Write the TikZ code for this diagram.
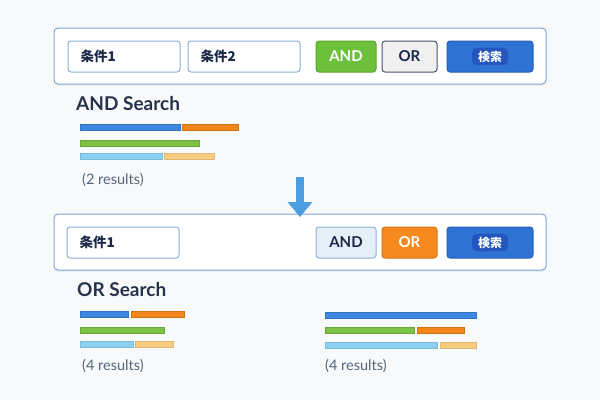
\documentclass[tikz,border=0pt]{standalone}
\usepackage{fontspec}
\setmainfont{Lato}
\newfontfamily\cjk{Noto Sans CJK JP}
\usetikzlibrary{arrows.meta,shadows}
\definecolor{bgc}{HTML}{F8F9FA}
\definecolor{panelb}{HTML}{7FA6D6}
\definecolor{fieldb}{HTML}{8DB0DA}
\definecolor{navy}{HTML}{1B2848}
\definecolor{headc}{HTML}{25324A}
\definecolor{resc}{HTML}{55657A}
\definecolor{bblue}{HTML}{3D87E0}
\definecolor{borange}{HTML}{F2861A}
\definecolor{bgreen}{HTML}{7DC242}
\definecolor{blblue}{HTML}{8CD0F0}
\definecolor{blorange}{HTML}{F8CC80}
\definecolor{btngreen}{HTML}{6CC03A}
\definecolor{btnorange}{HTML}{F68A1E}
\definecolor{btnblue}{HTML}{2E72D4}
\definecolor{btnbluedark}{HTML}{2255BE}
\definecolor{lightbtnc}{HTML}{E6EFF8}
\definecolor{arrowc}{HTML}{4E9DE0}
\tikzset{
  panel/.style={draw=panelb, line width=1pt, fill=white, rounded corners=4pt,
    drop shadow={shadow xshift=0pt, shadow yshift=-1.5pt, opacity=0.12}},
  field/.style={draw=fieldb, line width=1pt, fill=white, rounded corners=3pt,
    minimum height=31pt, inner sep=0pt},
  fieldtext/.style={font=\cjk\bfseries\fontsize{13.5}{15}\selectfont, text=navy, anchor=west, inner sep=0pt},
  btn/.style={rounded corners=3pt, line width=1pt, minimum height=31pt, inner sep=0pt,
    font=\bfseries\fontsize{15}{17}\selectfont},
  greenbtn/.style={btn, fill=btngreen, draw=btngreen!85!black, text=white},
  orangebtn/.style={btn, fill=btnorange, draw=btnorange!85!black, text=white},
  lightbtn/.style={btn, fill=lightbtnc, draw=fieldb, text=navy},
  greybtn/.style={btn, fill=black!6, draw=navy!80, text=navy},
  bluebtn/.style={btn, fill=btnblue, draw=btnblue!85!black},
  searchtext/.style={font=\cjk\bfseries\fontsize{12}{14}\selectfont, text=white, fill=btnbluedark,
    rounded corners=5pt, inner xsep=6pt, inner ysep=3pt},
  head/.style={font=\fontsize{19}{22}\selectfont\bfseries, text=headc, anchor=west, inner sep=0pt},
  res/.style={font=\fontsize{14.5}{17}\selectfont, text=resc, anchor=west, inner sep=0pt},
  barb/.style={fill=bblue, draw=bblue!85!black, line width=0.4pt},
  baro/.style={fill=borange, draw=borange!85!black, line width=0.4pt},
  barg/.style={fill=bgreen, draw=bgreen!85!black, line width=0.4pt},
  barlb/.style={fill=blblue, draw=blblue!90!black, line width=0.4pt},
  barlo/.style={fill=blorange, draw=blorange!90!black, line width=0.4pt},
  flow/.style={draw=arrowc, line width=8pt, -{Triangle[width=24pt,length=15pt]}}
}
\begin{document}
\begin{tikzpicture}[x=1pt,y=-1pt]
\fill[bgc] (0,0) rectangle (600,400);
\useasboundingbox (0,0) rectangle (600,400);

% ---- top panel ----
\node[panel, minimum width=492pt, minimum height=56pt] (p1) at (300,56) {};
\node[field, minimum width=112pt] (f1) at (124,56.5) {};
\node[fieldtext] (t1) at ([xshift=13pt]f1.west) {条件1};
\node[field, minimum width=112pt] (f2) at (244,56.5) {};
\node[fieldtext] (t2) at ([xshift=13pt]f2.west) {条件2};
\node[greenbtn, minimum width=60pt] (and1) at (346,56.5) {AND};
\node[greybtn, minimum width=55pt] (or1) at (409.5,56.5) {OR};
\node[bluebtn, minimum width=86pt] (s1) at (490,56.5) {};
\node[searchtext] (s1t) at (s1.center) {検索};

% ---- AND results ----
\node[head] (h1) at (76,103.5) {AND Search};
\filldraw[barb] (80,124) rectangle (180,130);
\filldraw[baro] (182,124) rectangle (238,130);
\filldraw[barg] (80,140) rectangle (199,146);
\filldraw[barlb] (80,153.5) rectangle (162,159.5);
\filldraw[barlo] (164,153.5) rectangle (214,159.5);
\node[res] (r1) at (82,180) {(2 results)};

% ---- bottom panel ----
\node[panel, minimum width=492pt, minimum height=56pt] (p2) at (300,242) {};
\node[field, minimum width=112pt] (f3) at (123,242.5) {};
\node[fieldtext] (t3) at ([xshift=13pt]f3.west) {条件1};
\node[lightbtn, minimum width=60pt] (and2) at (346,242.5) {AND};
\node[orangebtn, minimum width=55pt] (or2) at (409.5,242.5) {OR};
\node[bluebtn, minimum width=86pt] (s2) at (490,242.5) {};
\node[searchtext] (s2t) at (s2.center) {検索};

% ---- arrow ----
\coordinate (a0) at (300,177);
\coordinate (a1) at (300,217);
\draw[flow] (a0) -- (a1);

% ---- OR results ----
\node[head] (h2) at (77,290) {OR Search};
\filldraw[barb] (80,311.5) rectangle (128,317.5);
\filldraw[baro] (131,311.5) rectangle (184,317.5);
\filldraw[barg] (80,327) rectangle (164,333);
\filldraw[barlb] (80,341.5) rectangle (133,347.5);
\filldraw[barlo] (135,341.5) rectangle (173,347.5);
\node[res] (r2) at (82,366) {(4 results)};

\filldraw[barb] (325,312) rectangle (476,318);
\filldraw[barg] (325,327) rectangle (414,333);
\filldraw[baro] (417,327) rectangle (464,333);
\filldraw[barlb] (325,342) rectangle (437,348);
\filldraw[barlo] (440,342) rectangle (476,348);
\node[res] (r3) at (325,366) {(4 results)};
\end{tikzpicture}
\end{document}
